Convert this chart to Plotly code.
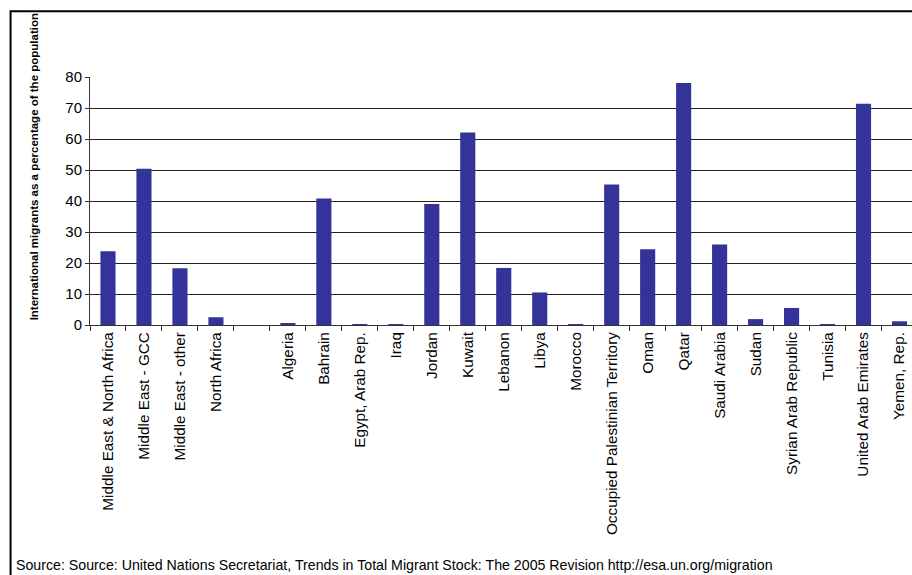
import plotly.graph_objects as go

categories = ["Middle East & North Africa", "Middle East - GCC", "Middle East - other",
              "North Africa", " ", "Algeria", "Bahrain", "Egypt, Arab Rep.", "Iraq",
              "Jordan", "Kuwait", "Lebanon", "Libya", "Morocco",
              "Occupied Palestinian Territory", "Oman", "Qatar", "Saudi Arabia",
              "Sudan", "Syrian Arab Republic", "Tunisia", "United Arab Emirates",
              "Yemen, Rep."]
values = [23.8, 50.4, 18.3, 2.5, None, 0.5, 40.8, 0.2, 0.1,
          39.0, 62.1, 18.4, 10.5, 0.2,
          45.3, 24.4, 78.1, 26.0,
          1.9, 5.5, 0.3, 71.4,
          1.2]
y_ticks = [0, 10, 20, 30, 40, 50, 60, 70, 80]
y_title = "International migrants as a percentage of the population"
source = "Source: Source: United Nations Secretariat, Trends in Total Migrant Stock: The 2005 Revision http://esa.un.org/migration"

FONT = "Liberation Sans, Arial, sans-serif"

fig = go.Figure(go.Bar(x=categories, y=values, marker=dict(color="#333399", line=dict(width=0))))

W, H = 912, 575
left, right = 89.5, 912
top, bottom = 77, 325.5
pw = right - left
ph = bottom - top

fig.update_layout(
    width=W, height=H,
    margin=dict(l=left, r=W - right, t=top, b=H - bottom, pad=0),
    paper_bgcolor="white", plot_bgcolor="white",
    bargap=0.58,
    showlegend=False,
    font=dict(family=FONT, size=15, color="black"),
)
fig.update_xaxes(
    type="category",
    categoryorder="array", categoryarray=categories,
    range=[-0.5, 22.5 - (917.5 - 912) / 36],
    showgrid=False,
    showline=True, linecolor="#333", linewidth=1,
    ticks="outside", tickson="boundaries", ticklen=5, tickcolor="#333",
    tickangle=-90, automargin=False,
    tickfont=dict(family=FONT, size=15.3, color="black"),
)
fig.update_yaxes(
    range=[0, 80],
    tickvals=y_ticks,
    showgrid=True, gridcolor="#222", gridwidth=1,
    showline=True, linecolor="#333", linewidth=1,
    ticks="outside", ticklen=4, tickcolor="#333",
    zeroline=False, automargin=False,
    tickfont=dict(family=FONT, size=15, color="black"),
)

def px_x(x):
    return (x - left) / pw

def px_y(y):
    return (bottom - y) / ph

fig.add_annotation(
    text="<b>" + y_title + "</b>",
    xref="paper", yref="paper",
    x=px_x(33), y=px_y(167),
    textangle=-90, showarrow=False,
    xanchor="center", yanchor="middle",
    font=dict(family=FONT, size=11.5, color="black"),
)
fig.add_annotation(
    text=source,
    xref="paper", yref="paper",
    x=px_x(13), y=px_y(566),
    showarrow=False, xanchor="left", yanchor="middle",
    font=dict(family=FONT, size=14.2, color="black"),
)
fig.add_shape(
    type="rect", xref="paper", yref="paper",
    x0=px_x(10), x1=px_x(930), y0=px_y(600), y1=px_y(11),
    line=dict(color="black", width=2), fillcolor="rgba(0,0,0,0)",
    layer="above",
)

fig.write_html("out.html")
